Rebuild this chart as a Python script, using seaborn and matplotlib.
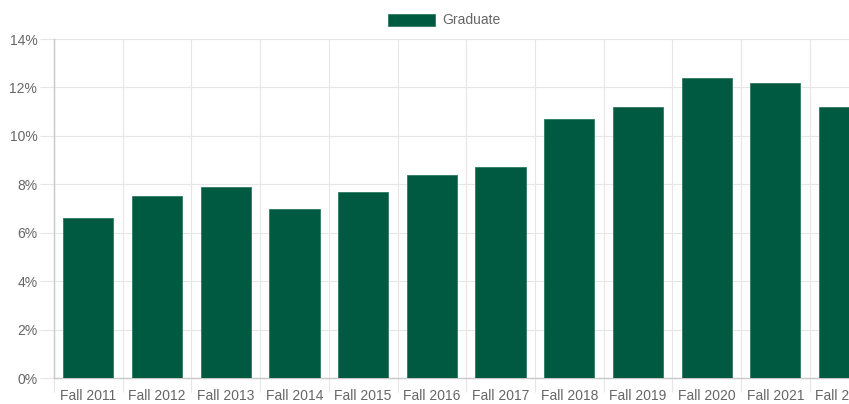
import numpy as np
import pandas as pd
import matplotlib
matplotlib.use("Agg")
import matplotlib.pyplot as plt
import matplotlib.patches as mpatches
from matplotlib.ticker import FixedLocator, FuncFormatter
import seaborn as sns

# Graduate share by fall term
terms = ["Fall 2011", "Fall 2012", "Fall 2013", "Fall 2014", "Fall 2015", "Fall 2016",
         "Fall 2017", "Fall 2018", "Fall 2019", "Fall 2020", "Fall 2021", "Fall 2022"]
graduate_pct = [6.6, 7.5, 7.9, 7.0, 7.7, 8.4, 8.7, 10.7, 11.2, 12.4, 12.2, 11.2]
y_ticks = [0, 2, 4, 6, 8, 10, 12, 14]

bar_color = "#005a41"
text_color = "#666666"
grid_color = "#e6e6e6"
axis_color = "#c8c8c8"

sns.set_theme(style="white")
plt.rcParams["font.family"] = ["Liberation Sans", "DejaVu Sans"]

df = pd.DataFrame({"term": terms, "pct": graduate_pct})

W, H = 849, 404
fig = plt.figure(figsize=(W / 100, H / 100), dpi=100)
ax = fig.add_axes([54 / W, 1 - 378 / H, 1 - 54 / W, (378 - 39) / H])

sns.barplot(data=df, x="term", y="pct", color=bar_color, width=0.73,
            saturation=1, edgecolor="#2f7a62", linewidth=0.6, ax=ax, zorder=3)

ax.set_ylim(0, 14)
ax.set_xlim(-0.5, (W - 54) / 68.7 - 0.5)
ax.set_xlabel("")
ax.set_ylabel("")

# y axis
ax.yaxis.set_major_locator(FixedLocator(y_ticks))
ax.yaxis.set_major_formatter(FuncFormatter(lambda v, p: f"{int(v)}%"))
ax.tick_params(axis="y", which="major", length=10, width=0.8, color=grid_color,
               labelsize=10, labelcolor=text_color, pad=2, left=True)

# x axis: labels at centres, grid/ticks at category boundaries
ax.xaxis.set_major_locator(FixedLocator(np.arange(len(terms))))
ax.set_xticklabels(terms)
ax.xaxis.set_minor_locator(FixedLocator(np.arange(len(terms) + 1) - 0.5))
ax.tick_params(axis="x", which="major", length=0, labelsize=10,
               labelcolor=text_color, pad=8)
ax.tick_params(axis="x", which="minor", length=10, width=0.8, color=grid_color,
               bottom=True)

ax.grid(True, axis="y", which="major", color=grid_color, linewidth=0.8, zorder=0)
ax.grid(True, axis="x", which="minor", color=grid_color, linewidth=0.8, zorder=0)
ax.grid(False, axis="x", which="major")
ax.set_axisbelow(True)

for side in ["top", "right"]:
    ax.spines[side].set_visible(False)
for side in ["left", "bottom"]:
    ax.spines[side].set_color(axis_color)
    ax.spines[side].set_linewidth(1)

# legend at the top
handle = mpatches.Patch(facecolor=bar_color, edgecolor="#2f7a62", linewidth=0.6,
                        label="Graduate")
fig.legend(handles=[handle], loc="center left", bbox_to_anchor=(388 / W, 1 - 20.5 / H),
           frameon=False, fontsize=10, labelcolor=text_color, handlelength=3.4,
           handleheight=0.95, handletextpad=0.5, borderpad=0, borderaxespad=0)

fig.savefig("out.png", dpi=100)
plt.close(fig)
